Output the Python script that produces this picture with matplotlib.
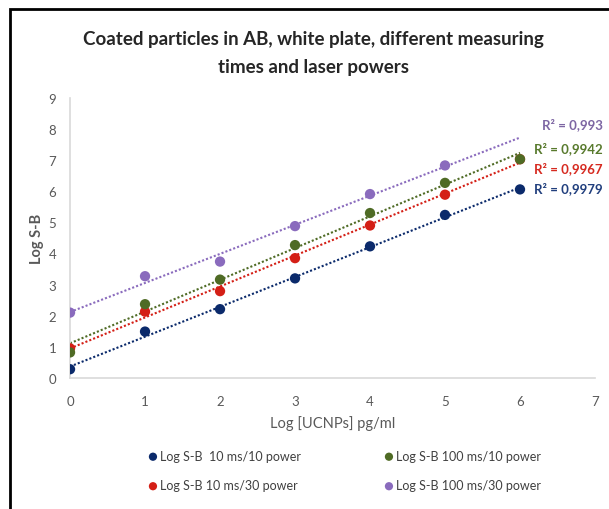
import matplotlib.pyplot as plt
from matplotlib.patches import Rectangle
import numpy as np

plt.rcParams['font.family'] = ['Lato', 'DejaVu Sans']

# log concentration of UCNPs
conc = [0, 1, 2, 3, 4, 5, 6]

blue_10_10 = [0.28, 1.49, 2.21, 3.20, 4.23, 5.24, 6.06]
red_10_30 = [0.95, 2.13, 2.79, 3.85, 4.90, 5.89, 7.03]
green_100_10 = [0.82, 2.37, 3.16, 4.27, 5.30, 6.27, 7.03]
purple_100_30 = [2.10, 3.27, 3.74, 4.88, 5.91, 6.83]

labels = ["Log S-B  10 ms/10 power", "Log S-B 10 ms/30 power",
          "Log S-B 100 ms/10 power", "Log S-B 100 ms/30 power"]
r2_texts = ["R² = 0,9979", "R² = 0,9967", "R² = 0,9942", "R² = 0,993"]
colors = ["#0b2a6b", "#d41f16", "#4f6b25", "#8a6bbd"]
r2_colors = ["#213f7d", "#d62a20", "#587a2d", "#7d66a3"]
r2_y = [6.13, 6.77, 7.39, 8.16]

series = [blue_10_10, red_10_30, green_100_10, purple_100_30]

fig = plt.figure(figsize=(6.09, 5.10), dpi=100)
ax = fig.add_axes([0.115, 0.257, 0.862, 0.549])

# outer frame (cropped at right/bottom)
fig.add_artist(Rectangle((10 / 609, -0.1), 1.2, 0.1 + 500 / 510,
                         transform=fig.transFigure, fill=False,
                         lw=2, edgecolor='black'))

for ys, c in zip(series, colors):
    xs = np.array(conc[:len(ys)])
    k, b = np.polyfit(xs, ys, 1)
    xl = np.array([0, 6])
    ax.plot(xl, k * xl + b, linestyle=(0, (1, 1)), color=c, lw=1.5, zorder=2)

# markers; green drawn after red so it covers red at x=6
handles = {}
for idx in [0, 1, 3, 2]:
    ys = series[idx]
    handles[idx] = ax.scatter(conc[:len(ys)], ys, s=55, color=colors[idx],
                              zorder=3, edgecolors='none')

for txt, c, y in zip(r2_texts, r2_colors, r2_y):
    ax.text(7.1, y, txt, color=c, fontsize=9.5, fontweight='bold',
            ha='right', va='center', clip_on=False)

ax.set_xlim(0, 7)
ax.set_ylim(0, 9)
ax.set_xticks(range(0, 8))
ax.set_yticks(range(0, 10))
for s in ['top', 'right']:
    ax.spines[s].set_visible(False)
for s in ['left', 'bottom']:
    ax.spines[s].set_color('#d9d9d9')
    ax.spines[s].set_linewidth(1.2)
ax.tick_params(length=0, colors='#595959', labelsize=9.5, pad=12)
ax.tick_params(axis='y', pad=10)

ax.set_xlabel("Log [UCNPs] pg/ml", color='#595959', fontsize=10.5, labelpad=6)
ax.set_ylabel("Log S-B", color='#595959', fontsize=10.5, fontweight='bold',
              labelpad=3)

fig.text(0.515, 0.895, "Coated particles in AB, white plate, different measuring\ntimes and laser powers",
         ha='center', va='center', fontsize=13.5, fontweight='bold',
         color='#262626', linespacing=1.75)

fig.legend([handles[i] for i in range(4)], labels, ncol=2,
           loc='center', bbox_to_anchor=(0.565, 0.075),
           frameon=False, fontsize=9, labelcolor='#404040',
           handletextpad=0.1, columnspacing=6.5, labelspacing=1.4,
           markerscale=0.8, handlelength=1.0)

fig.savefig("out.png", dpi=100)
